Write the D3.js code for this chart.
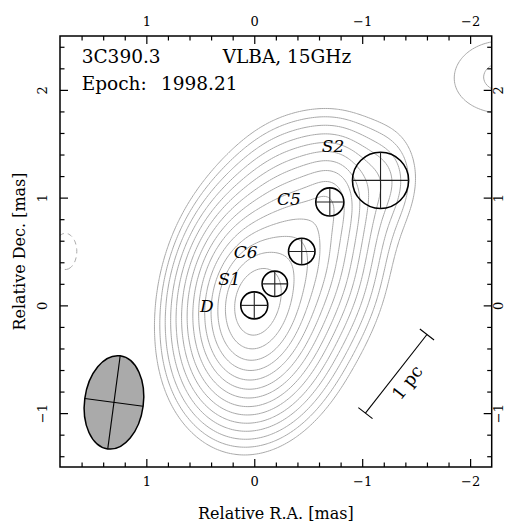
<!DOCTYPE html>
<html><head><meta charset="utf-8">
<script src="https://cdn.jsdelivr.net/npm/d3@7"></script>
<style>body{margin:0;background:#fff}svg{display:block}</style>
</head><body>
<svg id="c" width="507" height="523"></svg>
<script>
// ---- data ----
const xMajorTicks = [1, 0, -1, -2];
const yMajorTicks = [-1, 0, 1, 2];
const titleLeft = "3C390.3";
const titleMid = "VLBA, 15GHz";
const titleEpoch = "Epoch: 1998.21";
const xLabel = "Relative R.A. [mas]";
const yLabel = "Relative Dec. [mas]";
// model-fit components: position (mas), FWHM (mas), peak brightness (mJy/beam), profile core (beam units)
const compNames = ["D", "S1", "C6", "C5", "S2"];
const compX = [0, -0.19, -0.44, -0.70, -1.17];
const compY = [0, 0.20, 0.50, 0.96, 1.16];
const compSize = [0.25, 0.235, 0.245, 0.26, 0.52];
const compPeak = [105, 15, 22, 12, 2.1];
const compCore = [1.5, 1.5, 1.5, 0.7, 0.7];
// label anchor positions (mas)
const labelX = [0.44, 0.23, 0.08, -0.32, -0.73];
const labelY = [0.0, 0.25, 0.50, 0.99, 1.48];
// extended jet emission: position, FWHM x/y (mas), peak (mJy/beam)
const diffX = [-0.3, 0.0, -0.75];
const diffY = [0.95, -0.6, 0.2];
const diffFX = [0.5, 1.0, 0.6];
const diffFY = [0.5, 0.4, 0.6];
const diffPeak = [2.5, 0.8, 1.0];
// noise features at the map edges: position, sigma x/y (mas), peak (mJy/beam)
const noiseX = [-2.3, 1.75];
const noiseY = [2.12, 0.5];
const noiseSX = [0.483, 0.235];
const noiseSY = [0.37, 0.37];
const noisePeak = [1.35, -1.0];
// restoring beam: major, minor FWHM (mas), PA (deg), position
const beamMaj = 0.87, beamMin = 0.545, beamPA = -7.6;
const beamPos = [1.30, -0.90];
// contour levels (mJy/beam)
const levels = [0.9, 1.27, 1.8, 2.55, 3.6, 5.1, 7.2, 10.2, 14.4, 20.4, 28.8, 40.7, 57.6, 81.5];
const negLevels = [0.9];
// linear scale bar: start (mas), length (mas), PA (deg)
const barStart = [-1.03, -1.0], barLen = 0.926, barPA = -38, barText = "1 pc";

// ---- layout ----
const svg = d3.select("#c");
const L = 60, R = 491.7, T = 36, B = 467;
const x = d3.scaleLinear().domain([1.8, -2.2]).range([L, R]);
const y = d3.scaleLinear().domain([-1.5, 2.5]).range([B, T]);
const pxPerMas = x(0) - x(1);
const serif = "'DejaVu Serif', serif";

// ---- brightness field ----
const k = 2 * Math.sqrt(2 * Math.LN2);
const pa = beamPA * Math.PI / 180, sMaj = beamMaj / k, sMin = beamMin / k;
const ux = Math.sin(pa), uy = Math.cos(pa), vx = Math.cos(pa), vy = -Math.sin(pa);
const bxx = sMaj * sMaj * ux * ux + sMin * sMin * vx * vx;
const bxy = sMaj * sMaj * ux * uy + sMin * sMin * vx * vy;
const byy = sMaj * sMaj * uy * uy + sMin * sMin * vy * vy;
function quad(fx, fy) {
  const a = bxx + (fx / k) ** 2, b = bxy, d = byy + (fy / k) ** 2, det = a * d - b * b;
  return {ia: d / det, ib: -b / det, id: a / det};
}
const hh = 0.49; // profile scale (beam units)
const srcs = [];
compX.forEach((cx, i) => srcs.push({cx, cy: compY[i], amp: compPeak[i], c: compCore[i], ...quad(compSize[i], compSize[i])}));
diffX.forEach((cx, i) => srcs.push({cx, cy: diffY[i], amp: diffPeak[i], c: 1.5, ...quad(diffFX[i], diffFY[i])}));
const noise = noiseX.map((cx, i) => ({cx, cy: noiseY[i], amp: noisePeak[i], sx: noiseSX[i], sy: noiseSY[i]}));
const gx0 = 2.6, gy0 = 3.3, gd = 0.02, nx = 290, ny = 290;
const values = new Float64Array(nx * ny);
for (let j = 0; j < ny; j++) {
  const py = gy0 - j * gd;
  for (let i = 0; i < nx; i++) {
    const px = gx0 - i * gd;
    let s = 0;
    for (const g of srcs) {
      const dx = px - g.cx, dy = py - g.cy;
      const r2 = g.ia * dx * dx + 2 * g.ib * dx * dy + g.id * dy * dy;
      s += g.amp * Math.exp(-(Math.sqrt(r2 + g.c * g.c) - g.c) / hh);
    }
    for (const g of noise) {
      const dx = (px - g.cx) / g.sx, dy = (py - g.cy) / g.sy;
      s += g.amp * Math.exp(-0.5 * (dx * dx + dy * dy));
    }
    values[j * nx + i] = s;
  }
}
const gridProj = d3.geoTransform({point(gx, gy) {
  this.stream.point(x(gx0 - (gx - 0.5) * gd), y(gy0 - (gy - 0.5) * gd));
}});
const path = d3.geoPath(gridProj);

svg.append("defs").append("clipPath").attr("id", "clip")
  .append("rect").attr("x", L).attr("y", T).attr("width", R - L).attr("height", B - T);
const plot = svg.append("g").attr("clip-path", "url(#clip)");

const pos = d3.contours().size([nx, ny]).thresholds(levels)(values);
plot.append("g").selectAll("path").data(pos).join("path")
  .attr("d", path).attr("fill", "none").attr("stroke", "#a9a9a9").attr("stroke-width", 1);
const negValues = values.map(v => -v);
const neg = d3.contours().size([nx, ny]).thresholds(negLevels)(negValues);
plot.append("g").selectAll("path").data(neg).join("path")
  .attr("d", path).attr("fill", "none").attr("stroke", "#a9a9a9").attr("stroke-width", 1)
  .attr("stroke-dasharray", "5,4");

// ---- components ----
const cg = plot.append("g");
compX.forEach((cx, i) => {
  const px = x(cx), py = y(compY[i]), r = compSize[i] / 2 * pxPerMas;
  cg.append("circle").attr("cx", px).attr("cy", py).attr("r", r)
    .attr("fill", "none").attr("stroke", "#000").attr("stroke-width", 1.6);
  cg.append("line").attr("x1", px - r).attr("x2", px + r).attr("y1", py).attr("y2", py)
    .attr("stroke", "#222").attr("stroke-width", 1.1);
  cg.append("line").attr("x1", px).attr("x2", px).attr("y1", py - r).attr("y2", py + r)
    .attr("stroke", "#222").attr("stroke-width", 1.1);
  cg.append("text").attr("x", x(labelX[i])).attr("y", y(labelY[i]) + 6.5)
    .attr("text-anchor", "middle").attr("font-family", serif).attr("font-style", "italic")
    .attr("font-size", 17).text(compNames[i]);
});

// ---- beam ----
const bg = plot.append("g").attr("transform", `translate(${x(beamPos[0])},${y(beamPos[1])}) rotate(${-beamPA})`);
const brx = beamMin / 2 * pxPerMas, bry = beamMaj / 2 * pxPerMas;
bg.append("ellipse").attr("rx", brx).attr("ry", bry).attr("fill", "#aaaaaa").attr("stroke", "#000").attr("stroke-width", 1.5);
bg.append("line").attr("x1", -brx).attr("x2", brx).attr("stroke", "#000").attr("stroke-width", 1.1);
bg.append("line").attr("y1", -bry).attr("y2", bry).attr("stroke", "#000").attr("stroke-width", 1.1);

// ---- scale bar ----
const bpa = barPA * Math.PI / 180;
const bx1 = x(barStart[0]), by1 = y(barStart[1]);
const bx2 = x(barStart[0] + barLen * Math.sin(bpa)), by2 = y(barStart[1] + barLen * Math.cos(bpa));
const ang = Math.atan2(by2 - by1, bx2 - bx1);
const nxp = -Math.sin(ang), nyp = Math.cos(ang), tl = 9;
const sb = svg.append("g").attr("stroke", "#000").attr("stroke-width", 1.1);
sb.append("line").attr("x1", bx1).attr("y1", by1).attr("x2", bx2).attr("y2", by2);
[[bx1, by1], [bx2, by2]].forEach(([px, py]) => sb.append("line")
  .attr("x1", px - nxp * tl).attr("y1", py - nyp * tl).attr("x2", px + nxp * tl).attr("y2", py + nyp * tl));
const mx = (bx1 + bx2) / 2 + nxp * 14, my = (by1 + by2) / 2 + nyp * 14;
svg.append("text").attr("transform", `translate(${mx},${my}) rotate(${ang * 180 / Math.PI})`)
  .attr("text-anchor", "middle").attr("dy", "0.35em").attr("font-family", serif).attr("font-size", 17.5).text(barText);

// ---- axes ----
const minorX = d3.range(-2.2, 1.81, 0.2).map(v => +v.toFixed(1)).filter(v => !xMajorTicks.includes(v) && v > -2.19 && v < 1.79);
const minorY = d3.range(-1.4, 2.41, 0.2).map(v => +v.toFixed(1)).filter(v => !yMajorTicks.includes(v));
function ax(gen, scale, tickVals, size, tr) {
  const g = svg.append("g").attr("transform", tr)
    .call(gen(scale).tickValues(tickVals).tickSizeInner(-size).tickSizeOuter(0).tickPadding(10).tickFormat(d3.format("")));
  g.select(".domain").remove();
  g.selectAll("line").attr("stroke", "#000").attr("stroke-width", 1.2);
  g.selectAll("text").attr("font-family", serif).attr("font-size", 13).attr("fill", "#000");
  return g;
}
const fmt = d => d < 0 ? "\u2212" + Math.abs(d) : "" + d;
const gb = ax(d3.axisBottom, x, xMajorTicks, 8, `translate(0,${B})`); gb.selectAll("text").text(fmt);
ax(d3.axisBottom, x, minorX, 4.5, `translate(0,${B})`).selectAll("text").remove();
const gt = ax(d3.axisTop, x, xMajorTicks, 8, `translate(0,${T})`); gt.selectAll("text").text(fmt);
ax(d3.axisTop, x, minorX, 4.5, `translate(0,${T})`).selectAll("text").remove();
const gl = ax(d3.axisLeft, y, yMajorTicks, 8, `translate(${L},0)`);
gl.selectAll("text").text(fmt).attr("x", null).attr("dy", null).attr("text-anchor", "middle")
  .attr("transform", "translate(-13,0) rotate(-90)");
ax(d3.axisLeft, y, minorY, 4.5, `translate(${L},0)`).selectAll("text").remove();
const gr = ax(d3.axisRight, y, yMajorTicks, 8, `translate(${R},0)`);
gr.selectAll("text").text(fmt).attr("x", null).attr("dy", null).attr("text-anchor", "middle")
  .attr("transform", "translate(11.5,0) rotate(-90)");
ax(d3.axisRight, y, minorY, 4.5, `translate(${R},0)`).selectAll("text").remove();

svg.append("rect").attr("x", L).attr("y", T).attr("width", R - L).attr("height", B - T)
  .attr("fill", "none").attr("stroke", "#000").attr("stroke-width", 1.5);

// ---- texts ----
const tg = svg.append("g").attr("font-family", serif).attr("font-size", 18.5).attr("fill", "#000");
tg.append("text").attr("x", 81.7).attr("y", 63).text(titleLeft);
tg.append("text").attr("x", 222.7).attr("y", 63).text(titleMid);
const ep = titleEpoch.split(" ");
const et = tg.append("text").attr("y", 90);
et.append("tspan").attr("x", 81.7).text(ep[0]);
et.append("tspan").attr("x", 161).text(ep[1]);
svg.append("text").attr("x", (L + R) / 2).attr("y", 519).attr("text-anchor", "middle")
  .attr("font-family", serif).attr("font-size", 16).text(xLabel);
svg.append("text").attr("transform", `translate(25,${(T + B) / 2}) rotate(-90)`).attr("text-anchor", "middle")
  .attr("font-family", serif).attr("font-size", 16).text(yLabel);
</script>
</body></html>
